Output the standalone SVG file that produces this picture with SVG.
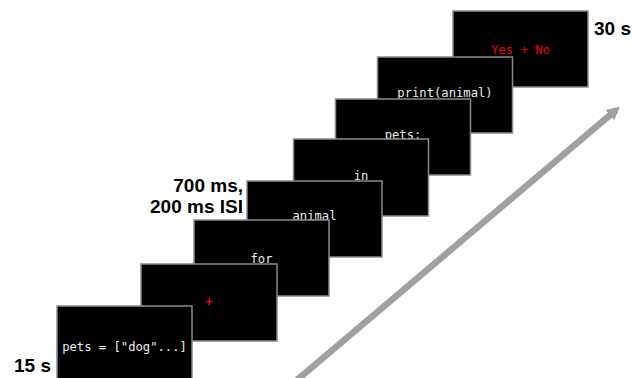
<svg xmlns="http://www.w3.org/2000/svg" width="632" height="378" viewBox="0 0 632 378">
  <defs>
    <style>
      .screen { fill: #000; stroke: #8a8a8a; stroke-width: 1.5; }
      .code { font-family: "DejaVu Sans Mono", "Liberation Mono", monospace; font-size: 12.2px; fill: #ececec; text-anchor: middle; }
      .red { fill: #ee0000; }
      .label { font-family: "Liberation Sans", Arial, sans-serif; font-weight: bold; font-size: 19px; fill: #000; }
    </style>
    <marker id="head" viewBox="0 0 10 10" refX="6" refY="5" markerWidth="2.0" markerHeight="2.2" orient="auto" markerUnits="strokeWidth">
      <path d="M0,0 L10,5 L0,10 Z" fill="#a0a0a0"/>
    </marker>
  </defs>
  <rect width="632" height="378" fill="#fff"/>

  <!-- time axis -->
  <g id="connectors">
    <line x1="297" y1="380" x2="616" y2="110" stroke="#a0a0a0" stroke-width="6.5" marker-end="url(#head)"/>
  </g>

  <!-- stimulus screens, last one drawn first so earlier screens sit in front -->
  <g id="screen8">
    <rect class="screen" x="453" y="11" width="135" height="76"/>
    <text class="code red" x="520.5" y="54">Yes + No</text>
  </g>
  <g id="screen7">
    <rect class="screen" x="377.5" y="57" width="135" height="76"/>
    <text class="code" x="445" y="97">print(animal)</text>
  </g>
  <g id="screen6">
    <rect class="screen" x="335.5" y="99" width="135" height="76"/>
    <text class="code" x="403" y="138.5">pets:</text>
  </g>
  <g id="screen5">
    <rect class="screen" x="293.5" y="139" width="135" height="77"/>
    <text class="code" x="361" y="180">in</text>
  </g>
  <g id="screen4">
    <rect class="screen" x="247" y="181" width="135" height="76"/>
    <text class="code" x="314.5" y="219.5">animal</text>
  </g>
  <g id="screen3">
    <rect class="screen" x="194" y="220" width="135" height="76"/>
    <text class="code" x="261.5" y="263">for</text>
  </g>
  <g id="screen2">
    <rect class="screen" x="141" y="264" width="136" height="77"/>
    <text class="code red" x="209" y="306" font-size="15px" font-weight="bold">+</text>
  </g>
  <g id="screen1">
    <rect class="screen" x="57" y="306" width="135" height="76"/>
    <text class="code" x="124.5" y="351">pets = ["dog"...]</text>
  </g>

  <!-- timing labels -->
  <g id="labels">
    <text class="label" x="14" y="372">15 s</text>
    <text class="label" x="243" y="192" text-anchor="end">700 ms,</text>
    <text class="label" x="243" y="213" text-anchor="end">200 ms ISI</text>
    <text class="label" x="594" y="35">30 s</text>
  </g>
</svg>
